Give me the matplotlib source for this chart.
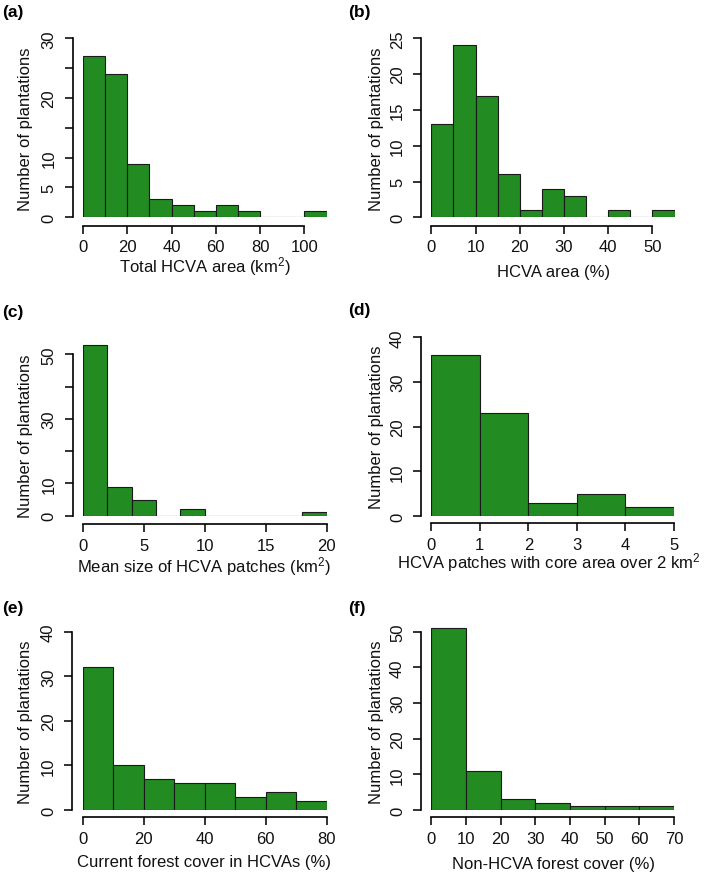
import matplotlib
matplotlib.use("Agg")
import matplotlib.pyplot as plt
import numpy as np

plt.rcParams['font.family'] = ['Liberation Sans', 'DejaVu Sans']
plt.rcParams['mathtext.fontset'] = 'custom'
plt.rcParams['mathtext.rm'] = 'Liberation Sans'
plt.rcParams['mathtext.it'] = 'Liberation Sans:italic'
plt.rcParams['mathtext.bf'] = 'Liberation Sans:bold'

W, H = 709, 878

# ---- data ----
a_edges = [0, 10, 20, 30, 40, 50, 60, 70, 80, 90, 100, 110]
a_counts = [27, 24, 9, 3, 2, 1, 2, 1, 0, 0, 1]
b_edges = [0, 5, 10, 15, 20, 25, 30, 35, 40, 45, 50, 55]
b_counts = [13, 24, 17, 6, 1, 4, 3, 0, 1, 0, 1]
c_edges = [0, 2, 4, 6, 8, 10, 12, 14, 16, 18, 20]
c_counts = [53, 9, 5, 0, 2, 0, 0, 0, 0, 1]
d_edges = [0, 1, 2, 3, 4, 5]
d_counts = [36, 23, 3, 5, 2]
e_edges = [0, 10, 20, 30, 40, 50, 60, 70, 80]
e_counts = [32, 10, 7, 6, 6, 3, 4, 2]
f_edges = [0, 10, 20, 30, 40, 50, 60, 70]
f_counts = [51, 11, 3, 2, 1, 1, 1]

a_xticks = [0, 20, 40, 60, 80, 100]
b_xticks = [0, 10, 20, 30, 40, 50]
c_xticks = [0, 5, 10, 15, 20]
d_xticks = [0, 1, 2, 3, 4, 5]
e_xticks = [0, 20, 40, 60, 80]
f_xticks = [0, 10, 20, 30, 40, 50, 60, 70]

a_yticks = [0, 5, 10, 15, 20, 25, 30]
a_ylabels = ['0', '5', '10', '', '20', '', '30']
b_yticks = [0, 5, 10, 15, 20, 25]
b_ylabels = ['0', '5', '10', '15', '20', '25']
c_yticks = [0, 10, 20, 30, 40, 50]
c_ylabels = ['0', '10', '', '30', '', '50']
d_yticks = [0, 10, 20, 30, 40]
d_ylabels = ['0', '10', '20', '30', '40']
e_yticks = [0, 10, 20, 30, 40]
e_ylabels = ['0', '10', '20', '30', '40']
f_yticks = [0, 10, 20, 30, 40, 50]
f_ylabels = ['0', '10', '20', '30', '40', '50']

xlabels = ['Total HCVA area (km$^2$)', 'HCVA area (%)',
           'Mean size of HCVA patches (km$^2$)',
           'HCVA patches with core area over 2 km$^2$',
           'Current forest cover in HCVAs (%)', 'Non-HCVA forest cover (%)']
tags = ['(a)', '(b)', '(c)', '(d)', '(e)', '(f)']

GREEN = '#228B22'
TXT = '#111111'
FS = 12

fig = plt.figure(figsize=(W / 100, H / 100), dpi=100)

def px2pt(p):
    return p * 0.72

# layout in pixels
panels = [
    dict(edges=a_edges, counts=a_counts, xt=a_xticks, yt=a_yticks, yl=a_ylabels,
         x0=83.0, x1=326.6, y0=218.3, y1=39.3, yax=72.5, xax=226.5,
         tag=(2, 13), xlab=(205, 267), ylab_x=26),
    dict(edges=b_edges, counts=b_counts, xt=b_xticks, yt=b_yticks, yl=b_ylabels,
         x0=431.3, x1=674.5, y0=218.3, y1=39.3, yax=421, xax=226.5,
         tag=(348, 13), xlab=(554, 273), ylab_x=377),
    dict(edges=c_edges, counts=c_counts, xt=c_xticks, yt=c_yticks, yl=c_ylabels,
         x0=83.0, x1=326.7, y0=516.7, y1=355.3, yax=72.5, xax=525,
         tag=(2, 313), xlab=(204, 567), ylab_x=26),
    dict(edges=d_edges, counts=d_counts, xt=d_xticks, yt=d_yticks, yl=d_ylabels,
         x0=431.3, x1=674, y0=517, y1=338.3, yax=421, xax=524.3,
         tag=(348, 311), xlab=(549, 563), ylab_x=377),
    dict(edges=e_edges, counts=e_counts, xt=e_xticks, yt=e_yticks, yl=e_ylabels,
         x0=83.0, x1=326.7, y0=811, y1=632.7, yax=72, xax=818.3,
         tag=(2, 609), xlab=(204, 863), ylab_x=26),
    dict(edges=f_edges, counts=f_counts, xt=f_xticks, yt=f_yticks, yl=f_ylabels,
         x0=431.3, x1=674, y0=811, y1=632.7, yax=421, xax=818.3,
         tag=(348, 609), xlab=(554, 865), ylab_x=377),
]

for i, p in enumerate(panels):
    edges = np.array(p['edges'], dtype=float)
    counts = np.array(p['counts'], dtype=float)
    ytop_tick = p['yt'][-1]
    ppu = (p['y0'] - p['y1']) / ytop_tick
    ylim_top = max(ytop_tick, counts.max()) * 1.02
    top_px = p['y0'] - ylim_top * ppu
    left = p['x0'] / W
    width = (p['x1'] - p['x0']) / W
    bottom = 1 - p['y0'] / H
    height = (p['y0'] - top_px) / H
    ax = fig.add_axes([left, bottom, width, height])
    ax.bar(edges[:-1], counts, width=np.diff(edges), align='edge',
           color=GREEN, edgecolor='#1a1a1a', linewidth=0.8)
    ax.set_xlim(edges[0], edges[-1])
    ax.set_ylim(0, ylim_top)
    for s in ['top', 'right']:
        ax.spines[s].set_visible(False)
    ax.spines['left'].set_position(('outward', px2pt(p['x0'] - p['yax'])))
    ax.spines['bottom'].set_position(('outward', px2pt(p['xax'] - p['y0'])))
    ax.spines['left'].set_bounds(p['yt'][0], p['yt'][-1])
    ax.spines['bottom'].set_bounds(p['xt'][0], p['xt'][-1])
    for s in ['left', 'bottom']:
        ax.spines[s].set_linewidth(1.2)
    ax.set_xticks(p['xt'])
    ax.set_xticklabels([str(v) for v in p['xt']])
    ax.set_yticks(p['yt'])
    ax.set_yticklabels(p['yl'], rotation=90, va='center')
    ax.tick_params(direction='out', length=5.5, width=1.2, labelsize=FS,
                   colors=TXT)
    ax.tick_params(axis='x', pad=4.5)
    ax.tick_params(axis='y', pad=6)
    ax.patch.set_alpha(0)
    fig.text(p['tag'][0] / W, 1 - p['tag'][1] / H, tags[i], fontsize=12.5,
             fontweight='bold', ha='left', va='center')
    fig.text(p['xlab'][0] / W, 1 - p['xlab'][1] / H, xlabels[i], fontsize=FS,
             ha='center', va='center', color=TXT)
    fig.text(p['ylab_x'] / W, 1 - ((p['y0'] + p['y1']) / 2) / H,
             'Number of plantations', fontsize=FS, rotation=90,
             ha='center', va='center', color=TXT)

fig.savefig('out.png', dpi=100)
